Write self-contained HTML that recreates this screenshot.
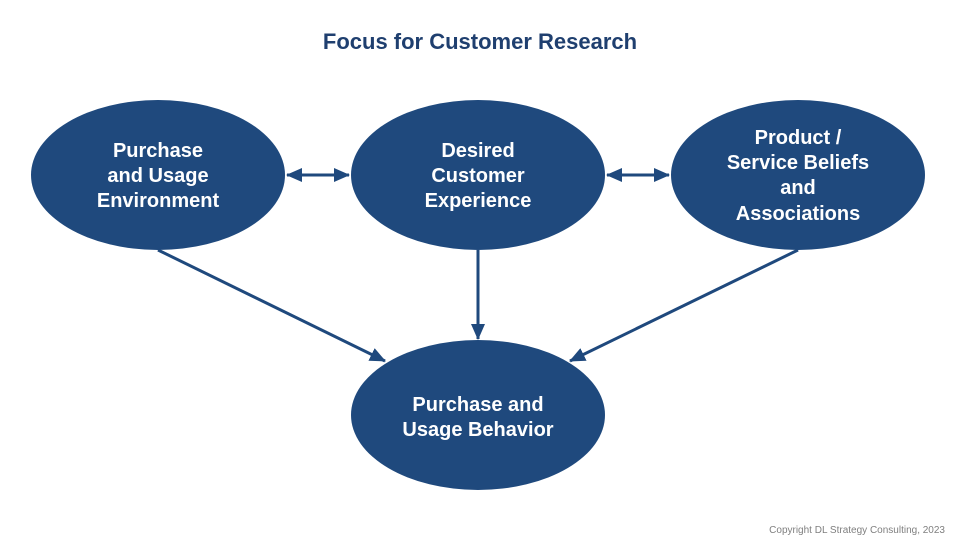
<!DOCTYPE html>
<html><head><meta charset="utf-8"><style>
html,body{margin:0;padding:0;background:#fff;}
svg{display:block;font-family:"Liberation Sans",Arial,sans-serif;}
</style></head><body>
<svg width="960" height="540" viewBox="0 0 960 540">
<defs>
<marker id="ah" markerWidth="8" markerHeight="8" refX="7" refY="4" orient="auto-start-reverse" markerUnits="userSpaceOnUse">
<path d="M0,0 L8,4 L0,8 Z" fill="#1f497d"/>
</marker>
<marker id="ahb" markerWidth="16" markerHeight="14" refX="15" refY="7" orient="auto-start-reverse" markerUnits="userSpaceOnUse">
<path d="M0,0 L16,7 L0,14 Z" fill="#1f497d"/>
</marker>
</defs>
<text x="480" y="49" text-anchor="middle" font-size="22" font-weight="bold" fill="#1f3f6f">Focus for Customer Research</text>

<g>
<line x1="287" y1="175" x2="349" y2="175" stroke="#1f497d" stroke-width="3" marker-start="url(#ahb)" marker-end="url(#ahb)"/>
<line x1="607" y1="175" x2="669" y2="175" stroke="#1f497d" stroke-width="3" marker-start="url(#ahb)" marker-end="url(#ahb)"/>
<line x1="158" y1="250" x2="385" y2="361" stroke="#1f497d" stroke-width="3" marker-end="url(#ahb)"/>
<line x1="478" y1="250" x2="478" y2="339" stroke="#1f497d" stroke-width="3" marker-end="url(#ahb)"/>
<line x1="798" y1="250" x2="570" y2="361" stroke="#1f497d" stroke-width="3" marker-end="url(#ahb)"/>
</g>

<g fill="#1f497d">
<ellipse cx="158" cy="175" rx="127" ry="75"/>
<ellipse cx="478" cy="175" rx="127" ry="75"/>
<ellipse cx="798" cy="175" rx="127" ry="75"/>
<ellipse cx="478" cy="415" rx="127" ry="75"/>
</g>

<g fill="#fff" font-size="20" font-weight="bold" text-anchor="middle">
<text><tspan x="158" y="157">Purchase</tspan><tspan x="158" y="182">and Usage</tspan><tspan x="158" y="207">Environment</tspan></text>
<text><tspan x="478" y="157">Desired</tspan><tspan x="478" y="182">Customer</tspan><tspan x="478" y="207">Experience</tspan></text>
<text><tspan x="798" y="144">Product /</tspan><tspan x="798" y="169">Service Beliefs</tspan><tspan x="798" y="194">and</tspan><tspan x="798" y="220">Associations</tspan></text>
<text><tspan x="478" y="411">Purchase and</tspan><tspan x="478" y="436">Usage Behavior</tspan></text>
</g>

<text x="945" y="533" text-anchor="end" font-size="10" fill="#7f7f7f">Copyright DL Strategy Consulting, 2023</text>
</svg>
</body></html>
